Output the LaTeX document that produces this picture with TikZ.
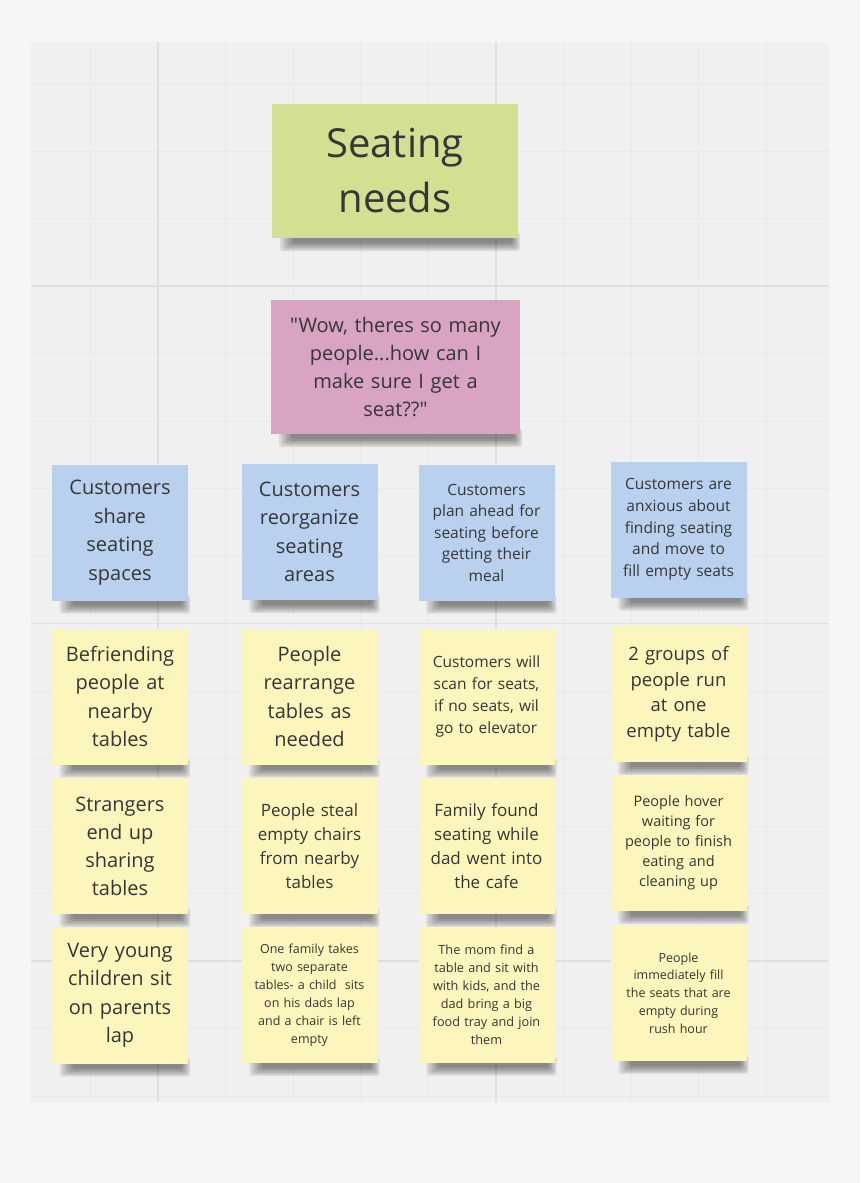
\documentclass[tikz,border=0pt]{standalone}
\usepackage{fontspec}
\setmainfont{Open Sans}[Ligatures=TeXOff]
\usetikzlibrary{backgrounds}

\definecolor{pagebg}{HTML}{F6F6F6}
\definecolor{boardbg}{HTML}{F0F0F0}
\definecolor{gridminor}{HTML}{E9E9E9}
\definecolor{gridmajor}{HTML}{DFDFDF}
\definecolor{notegreen}{HTML}{D5DF91}
\definecolor{notepink}{HTML}{D9A3C3}
\definecolor{noteblue}{HTML}{B9D1EF}
\definecolor{noteyellow}{HTML}{FDF6BC}
\definecolor{inktext}{HTML}{363636}

\newcommand{\fsz}[2]{\fontsize{#1}{#2}\selectfont}

\tikzset{
  note/.style={rectangle, inner sep=0pt, minimum width=136pt, minimum height=136pt,
    text width=128pt, align=center, text=inktext},
  bluenote/.style={note, fill=noteblue},
  yellownote/.style={note, fill=noteyellow},
  noteshadow/.style={fill=black, opacity=0.085, rounded corners=3pt},
}

\begin{document}
\begin{tikzpicture}[x=1pt, y=-1pt]
  \useasboundingbox (0,0) rectangle (860,1183);

  % Board and grid
  \begin{pgfonlayer}{background}
  \fill[pagebg] (0,0) rectangle (860,1183);
  \fill[boardbg] (31,42) rectangle (829,1102);
  \foreach \gx in {90.4,225.6,293.2,360.8,428.4,563.6,631.2,698.8,766.4}{
    \draw[gridminor, line width=0.8pt] (\gx,42) -- (\gx,1102);
  }
  \foreach \gy in {83.5,151,218.5,353.5,421,488.5,556,691,758.5,826,893.5,1028.5,1096}{
    \draw[gridminor, line width=0.8pt] (31,\gy) -- (829,\gy);
  }
  \foreach \gx in {158,496}{
    \draw[gridmajor, line width=1.6pt] (\gx,42) -- (\gx,1102);
  }
  \foreach \gy in {286,623.5,961}{
    \draw[gridmajor, line width=1.6pt] (31,\gy) -- (829,\gy);
  }
  \end{pgfonlayer}

  % Title and quote
  \node[note, fill=notegreen, minimum width=246pt, minimum height=134pt, text width=230pt,
        font=\fsz{40}{55}] (title) at (395,171) {Seating\\needs};
  \node[note, fill=notepink, minimum width=249pt, minimum height=134pt, text width=235pt,
        font=\fsz{20}{28.3}] (quote) at (395.5,367) {"Wow, theres so many\\people...how can I\\make sure I get a\\seat??"};

  % Themes
  \node[bluenote, font=\fsz{20}{28.5}] (share) at (120,532.5) {Customers\\share\\seating\\spaces};
  \node[bluenote, font=\fsz{20}{28.5}] (reorg) at (309.5,532) {Customers\\reorganize\\seating\\areas};
  \node[bluenote, font=\fsz{15.5}{21.5}] (plan) at (486.5,532.5) {Customers\\plan ahead for\\seating before\\getting their\\meal};
  \node[bluenote, font=\fsz{15.5}{21.7}] (anxious) at (678.5,529.5) {Customers are\\anxious about\\finding seating\\and move to\\fill empty seats};

  % Observations, row 1
  \node[yellownote, font=\fsz{20}{28.2}] (befriend) at (120,696.5) {Befriending\\people at\\nearby\\tables};
  \node[yellownote, font=\fsz{20}{28.2}] (rearrange) at (309.5,696.5) {People\\rearrange\\tables as\\needed};
  \node[yellownote, font=\fsz{15.5}{22}] (scan) at (486.5,696.5) {Customers will\\scan for seats,\\if no seats, wil\\go to elevator};
  \node[yellownote, font=\fsz{18.5}{25.7}] (groups) at (678.5,694) {2 groups of\\people run\\at one\\empty table};

  % Observations, row 2
  \node[yellownote, font=\fsz{20}{28}] (strangers) at (120,846) {Strangers\\end up\\sharing\\tables};
  \node[yellownote, font=\fsz{17}{24}] (steal) at (309.5,846) {People steal\\empty chairs\\from nearby\\tables};
  \node[yellownote, font=\fsz{17}{24}] (family) at (486.5,846) {Family found\\seating while\\dad went into\\the cafe};
  \node[yellownote, font=\fsz{14.5}{20}] (hover) at (678.5,843) {People hover\\waiting for\\people to finish\\eating and\\cleaning up};

  % Observations, row 3
  \node[yellownote, font=\fsz{20}{28.5}] (young) at (120,995.5) {Very young\\children sit\\on parents\\lap};
  \node[yellownote, font=\fsz{12.5}{18}] (onefam) at (309.5,995) {One family takes\\two separate\\tables- a child\ \ sits\\on his dads lap\\and a chair is left\\empty};
  \node[yellownote, font=\fsz{12.7}{18}] (mom) at (486.5,994.5) {The mom find a\\table and sit with\\with kids, and the\\dad bring a big\\food tray and join\\them};
  \node[yellownote, font=\fsz{12.5}{17.8}] (fill) at (678.5,993) {People\\immediately fill\\the seats that are\\empty during\\rush hour};

  % Soft shadows under the notes
  \begin{pgfonlayer}{background}
  \foreach \n in {title,quote,share,reorg,plan,anxious,befriend,rearrange,scan,groups,
                  strangers,steal,family,hover,young,onefam,mom,fill}{
    \foreach \k in {0,...,5}{
      \fill[noteshadow] ([xshift={(8+2.5*\k)*1pt}, yshift={(-13+1.6*\k)*1pt}]\n.south west)
        rectangle ([xshift={(2-1.6*\k)*1pt}, yshift=6pt]\n.south east);
    }
  }
  \end{pgfonlayer}
\end{tikzpicture}
\end{document}
